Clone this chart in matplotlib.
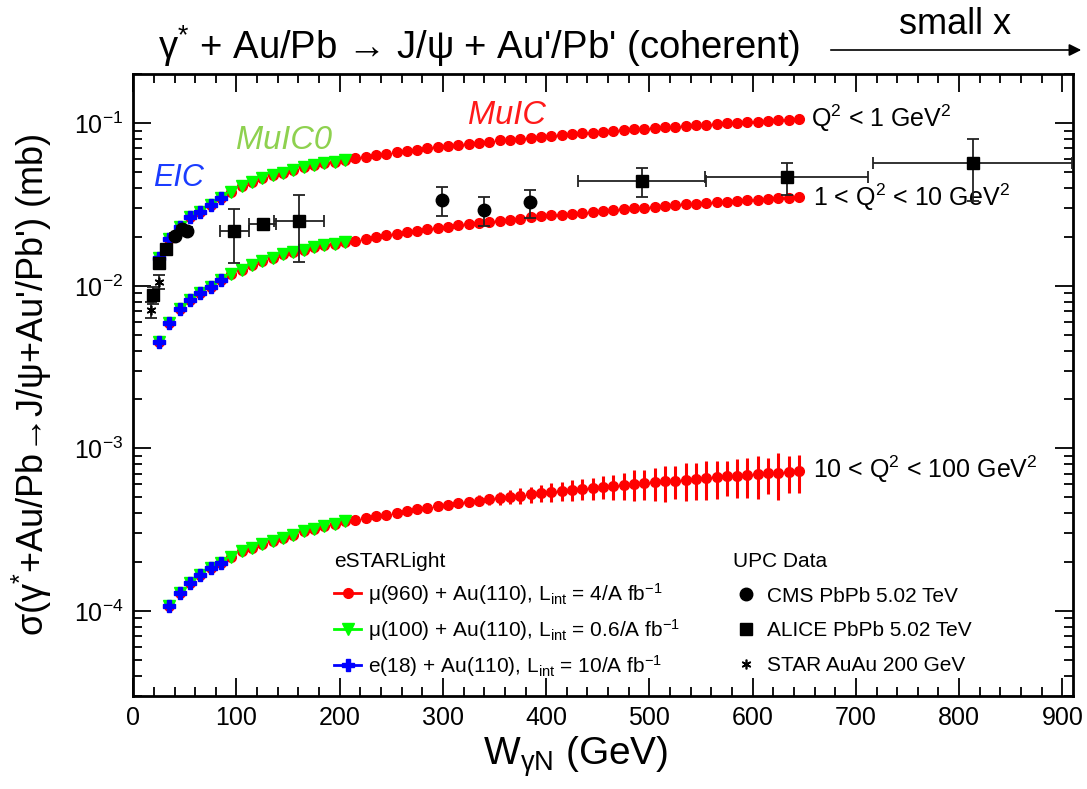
import numpy as np
import matplotlib
matplotlib.use("Agg")
from matplotlib import pyplot as plt
from matplotlib.lines import Line2D
from matplotlib.patches import FancyArrowPatch
from matplotlib.ticker import MultipleLocator, LogLocator, LogFormatterMathtext, NullFormatter

plt.rcParams['font.family'] = ['Liberation Sans', 'DejaVu Sans']
plt.rcParams['mathtext.fontset'] = 'custom'
plt.rcParams['mathtext.rm'] = 'Liberation Sans'
plt.rcParams['mathtext.it'] = 'Liberation Sans:italic'
plt.rcParams['mathtext.bf'] = 'Liberation Sans:bold'

# W grid of the eSTARLight predictions (GeV)
w_all = [25, 35, 45, 55, 65, 75, 85, 95, 105, 115, 125, 135, 145, 155, 165, 175, 185, 195, 205,
         215, 225, 235, 245, 255, 265, 275, 285, 295, 305, 315, 325, 335, 345, 355, 365, 375, 385,
         395, 405, 415, 425, 435, 445, 455, 465, 475, 485, 495, 505, 515, 525, 535, 545, 555, 565,
         575, 585, 595, 605, 615, 625, 635, 645]

# Q2 < 1 GeV2  (mb)
sig_q1 = [0.0148, 0.0193, 0.0231, 0.0264, 0.0286, 0.0314, 0.0345, 0.0379, 0.0411, 0.0436, 0.0458,
          0.0480, 0.0496, 0.0515, 0.0535, 0.0552, 0.0566, 0.0579, 0.0593,
          0.0608, 0.0622, 0.0637, 0.0650, 0.0664, 0.0676, 0.0689, 0.0702, 0.0714, 0.0726, 0.0738,
          0.0750, 0.0761, 0.0772, 0.0784, 0.0794, 0.0805, 0.0816, 0.0826, 0.0837, 0.0847, 0.0857,
          0.0867, 0.0877, 0.0887, 0.0897, 0.0906, 0.0916, 0.0925, 0.0934, 0.0944, 0.0953, 0.0962,
          0.0971, 0.0980, 0.0988, 0.0997, 0.1006, 0.1014, 0.1023, 0.1031, 0.1040, 0.1048, 0.1056]

# 1 < Q2 < 10 GeV2
sig_q10 = [0.00453, 0.00593, 0.00716, 0.00817, 0.00906, 0.00986, 0.01084, 0.01180, 0.01259, 0.01339,
           0.01422, 0.01492, 0.01563, 0.01617, 0.01671, 0.01734, 0.01778, 0.01820, 0.01862,
           0.01900, 0.01949, 0.01997, 0.02044, 0.02090, 0.02136, 0.02181, 0.02225, 0.02268, 0.02311,
           0.02353, 0.02395, 0.02436, 0.02476, 0.02516, 0.02556, 0.02595, 0.02633, 0.02671, 0.02709,
           0.02746, 0.02783, 0.02819, 0.02855, 0.02891, 0.02926, 0.02962, 0.02996, 0.03031, 0.03065,
           0.03099, 0.03132, 0.03166, 0.03199, 0.03231, 0.03264, 0.03296, 0.03328, 0.03360, 0.03391,
           0.03422, 0.03453, 0.03484, 0.03515]

# 10 < Q2 < 100 GeV2, starts at W = 35 (units of 1e-4 mb)
w_q100 = w_all[1:]
sig_q100 = [1.073, 1.297, 1.494, 1.655, 1.845, 1.980, 2.158, 2.334, 2.448, 2.565, 2.686, 2.818,
            2.951, 3.094, 3.200, 3.320, 3.430, 3.560,
            3.610, 3.715, 3.819, 3.921, 4.021, 4.120, 4.218, 4.314, 4.409, 4.503, 4.596, 4.687,
            4.778, 4.868, 4.956, 5.044, 5.131, 5.217, 5.302, 5.387, 5.470, 5.553, 5.635, 5.717,
            5.798, 5.878, 5.957, 6.036, 6.114, 6.192, 6.268, 6.345, 6.421, 6.497, 6.572, 6.647,
            6.721, 6.794, 6.867, 6.940, 7.012, 7.084, 7.155, 7.226]
err_q100 = [0]*18 + [0.10, 0.10, 0.12, 0.15, 0.15, 0.18, 0.20, 0.22, 0.25, 0.28, 0.30, 0.33,
                     0.38, 0.40, 0.45, 0.50, 0.55, 0.60, 0.62, 0.70, 0.72, 0.80, 0.85, 0.90,
                     0.94, 1.03, 1.11, 1.30, 1.28, 1.43, 1.58, 1.47, 1.68, 1.68, 1.74, 1.74,
                     1.65, 1.83, 1.92, 2.03, 1.77, 2.29, 1.85, 1.92]
sig_q100 = [v*1e-4 for v in sig_q100]
err_q100 = [v*1e-4 for v in err_q100]

n_muic0 = 19   # W 25..205
n_eic = 7      # W 25..85

# UPC data
cms_w = [40.4, 46.9, 52.3, 299, 340, 384]
cms_s = [0.0202, 0.0223, 0.0217, 0.0337, 0.0292, 0.0326]
cms_e = [0.0008, 0.0010, 0.0013, 0.0068, 0.0060, 0.0063]

alice_w = [19.4, 25.0, 32.0, 97.8, 125.3, 160.7, 493, 633, 813]
alice_s = [0.0088, 0.0138, 0.0168, 0.0217, 0.0240, 0.0251, 0.0443, 0.0465, 0.0566]
alice_e = [0.0011, 0.0008, 0.0009, 0.0078, 0.0005, 0.0110, 0.0091, 0.0103, 0.0235]
alice_xe = [0, 0, 0, 14, 13, 24, 62, 79, 96]

star_w = [17.1, 25.0]
star_s = [0.0071, 0.0106]
star_e = [0.0008, 0.0010]

RED = '#ff0000'
GREEN = '#00ff00'
BLUE = '#0000ff'

fig = plt.figure(figsize=(10.87, 7.89), dpi=100)
ax = fig.add_axes([0.1226, 0.1179, 0.8642, 0.7879])

ms_r, ms_g, ms_b = 7, 9, 9
ax.plot(w_all, sig_q1, 'o', color=RED, ms=ms_r, mec=RED, zorder=2)
ax.plot(w_all, sig_q10, 'o', color=RED, ms=ms_r, mec=RED, zorder=2)
ax.errorbar(w_q100, sig_q100, yerr=err_q100, fmt='o', color=RED, ms=ms_r, elinewidth=2.2,
            capsize=0, zorder=2)

for s in (sig_q1, sig_q10):
    ax.plot(w_all[:n_muic0], s[:n_muic0], 'v', color=GREEN, ms=ms_g, mec=GREEN, zorder=3)
ax.plot(w_q100[:n_muic0 - 1], sig_q100[:n_muic0 - 1], 'v', color=GREEN, ms=ms_g, mec=GREEN, zorder=3)

for s in (sig_q1, sig_q10):
    ax.plot(w_all[:n_eic], s[:n_eic], 'P', color=BLUE, ms=ms_b, mec=BLUE, zorder=4)
ax.plot(w_q100[:n_eic - 1], sig_q100[:n_eic - 1], 'P', color=BLUE, ms=ms_b, mec=BLUE, zorder=4)

ekw = dict(color='black', ecolor='#222222', elinewidth=1.3, capsize=4, capthick=1.3, zorder=5)
ax.errorbar(cms_w, cms_s, yerr=cms_e, fmt='o', ms=9, **ekw)
ax.errorbar(alice_w, alice_s, yerr=alice_e, xerr=alice_xe, fmt='s', ms=9, **ekw)
ax.errorbar(star_w, star_s, yerr=star_e, fmt='none', **ekw)
ax.plot(star_w, star_s, ls='none', marker=(6, 2, 0), ms=7, mec='black', mew=1.2, zorder=6)

ax.set_xlim(0, 910)
ax.set_ylim(3e-5, 0.2)
ax.set_yscale('log')
ax.xaxis.set_major_locator(MultipleLocator(100))
ax.xaxis.set_minor_locator(MultipleLocator(20))
ax.yaxis.set_major_locator(LogLocator(base=10, subs=(1.0,)))
ax.yaxis.set_minor_locator(LogLocator(base=10, subs=np.arange(2, 10)))
ax.yaxis.set_major_formatter(LogFormatterMathtext())
ax.yaxis.set_minor_formatter(NullFormatter())
ax.tick_params(which='both', direction='in', top=True, right=True, width=1.3, labelsize=18)
ax.tick_params(which='major', length=13, pad=7)
ax.tick_params(which='minor', length=6.5)
for sp in ax.spines.values():
    sp.set_linewidth(2)

# curve labels
ax.text(657, 0.107, r'Q$^2$ < 1 GeV$^2$', fontsize=18, va='center')
ax.text(658, 0.0352, r'1 < Q$^2$ < 10 GeV$^2$', fontsize=18, va='center')
ax.text(658, 7.4e-4, r'10 < Q$^2$ < 100 GeV$^2$', fontsize=18, va='center')
ax.text(19, 0.0458, 'EIC', color='#1a3cff', fontsize=22, style='italic', va='center')
ax.text(100, 0.0783, 'MuIC0', color='#8ed14f', fontsize=23.5, style='italic', va='center')
ax.text(324, 0.1114, 'MuIC', color='#ff1a1a', fontsize=23.5, style='italic', va='center')

# legends
h_model = [Line2D([], [], color=RED, marker='o', ms=7, lw=2),
           Line2D([], [], color=GREEN, marker='v', ms=9, lw=2),
           Line2D([], [], color=BLUE, marker='P', ms=9, lw=2)]
l_model = [r'μ(960) + Au(110), L$_{\rm int}$ = 4/A fb$^{-1}$',
           r'μ(100) + Au(110), L$_{\rm int}$ = 0.6/A fb$^{-1}$',
           r'e(18) + Au(110), L$_{\rm int}$ = 10/A fb$^{-1}$']
leg1 = ax.legend(h_model, l_model, title='eSTARLight', loc='upper left',
                 bbox_to_anchor=(0.205, 0.245), frameon=False, fontsize=15, title_fontsize=15,
                 handlelength=1.3, handletextpad=0.3, labelspacing=0.48, alignment='left',
                 borderaxespad=0)
ax.add_artist(leg1)
h_data = [Line2D([], [], ls='none', color='black', marker='o', ms=9),
          Line2D([], [], ls='none', color='black', marker='s', ms=9),
          Line2D([], [], ls='none', color='black', marker=(6, 2, 0), ms=7, mew=1.2)]
l_data = ['CMS PbPb 5.02 TeV', 'ALICE PbPb 5.02 TeV', 'STAR AuAu 200 GeV']
ax.legend(h_data, l_data, title='UPC Data', loc='upper left', bbox_to_anchor=(0.63, 0.245),
          frameon=False, fontsize=15, title_fontsize=15, handlelength=1.2, handletextpad=0.4,
          labelspacing=0.75, alignment='left', borderaxespad=0)

# titles
fig.text(479/1087, 1 - 46/789, r"γ$^{*}$ + Au/Pb → J/ψ + Au'/Pb' (coherent)",
         fontsize=27.5, ha='center', va='center')
fig.text(955/1087, 1 - 25/789, 'small x', fontsize=26, ha='center', va='center')
fig.patches.append(FancyArrowPatch(
    (828/1087, 1 - 50/789), (1084/1087, 1 - 50/789), transform=fig.transFigure,
    arrowstyle='-|>', mutation_scale=18, color='black', lw=1.2))
fig.text(576/1087, 1 - 757/789, r'W$_{\rm γN}$ (GeV)', fontsize=28, ha='center', va='center')
fig.text(32/1087, 1 - 385/789, r"σ(γ$^{*}$+Au/Pb→J/ψ+Au'/Pb') (mb)",
         fontsize=26, rotation=90, ha='center', va='center')

fig.savefig('out.png', dpi=100)
